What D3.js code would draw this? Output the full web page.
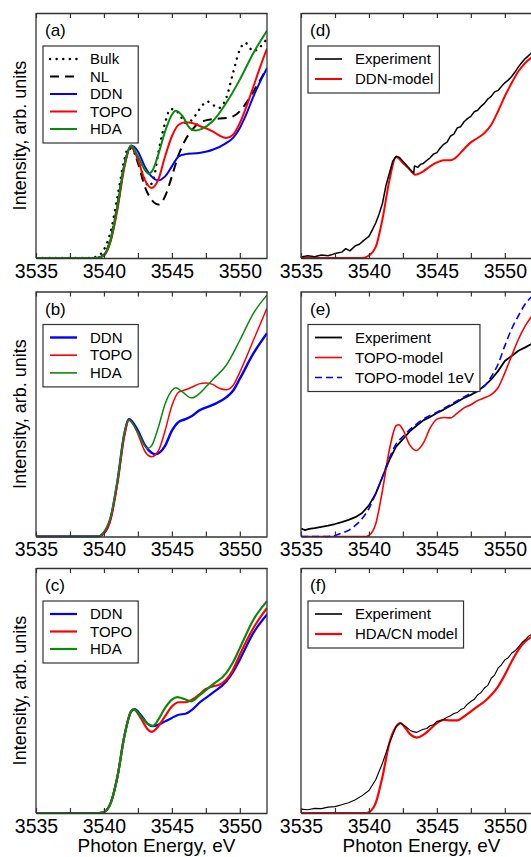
<!DOCTYPE html>
<html>
<head>
<meta charset="utf-8">
<script src="https://cdn.jsdelivr.net/npm/d3@7"></script>
<style>
  body { margin: 0; background: #fff; }
  svg { display: block; font-family: "Liberation Sans", Arial, sans-serif; }
</style>
</head>
<body>
<svg id="chart" width="531" height="857"></svg>
<script>
// x axis: photon energy, eV
const xDomain = [3535, 3552];
const xTicks = [3535, 3537.5, 3540, 3542.5, 3545, 3547.5, 3550];

// (a) simulated spectra, intensity in % of panel height
const bulkA = [[3535,0],[3539,0],[3539.5,0.7],[3540,3.4],[3540.5,10.9],[3541,25.2],[3541.5,40.1],[3541.8,44.9],[3542.5,40.1],[3543,32],[3543.3,29.3],[3543.7,33.3],[3544,42.9],[3544.5,55.1],[3544.9,60.8],[3545.5,59.2],[3546,55.1],[3546.5,56.5],[3547,60.5],[3547.6,63.9],[3548,62.6],[3548.45,61.2],[3549,65.3],[3549.5,75.5],[3550,85],[3550.4,87.8],[3551,84.4],[3551.4,85.7],[3552,89.5]];
const nlA = [[3535,0],[3539.5,0],[3540,1.5],[3540.5,8],[3541,22],[3541.5,38],[3542,45.6],[3542.5,38.8],[3543,29.3],[3543.5,23.8],[3544,21.8],[3544.5,25.2],[3545,33.3],[3545.5,42.2],[3546,48.3],[3546.5,52.4],[3547,55.1],[3548,56.7],[3549,57.1],[3549.5,57.8],[3550,59.9],[3550.5,63.5],[3551,68],[3552,77.5]];
const ddnA = [[3535,0],[3539.5,0],[3540,1.2],[3540.5,7.5],[3541,21],[3541.5,37.4],[3542,45.9],[3542.5,43.5],[3543,37.4],[3543.5,33.3],[3544,31.7],[3544.5,33.3],[3545,37.4],[3545.5,41.5],[3546,42.4],[3547,42.9],[3548,44.2],[3549,46.9],[3549.5,49],[3550,53.1],[3550.5,59],[3551,66],[3551.5,72],[3552,77.5]];
const topoA = [[3535,0],[3539.5,0],[3540,1],[3540.5,7],[3541,20],[3541.5,37],[3542,45.6],[3542.5,40.1],[3543,32],[3543.5,28.6],[3544,32],[3544.5,41.5],[3545,49.7],[3545.5,54.4],[3546,55.4],[3546.5,55.1],[3547,54],[3548,51.7],[3548.5,50],[3549,49],[3549.5,50.3],[3550,55.1],[3550.5,62],[3551,70],[3551.5,78],[3552,85.5]];
const hdaA = [[3535,0],[3539.5,0],[3540,1.2],[3540.5,7.8],[3541,21.5],[3541.5,38],[3542,45.8],[3542.5,41.5],[3543,36],[3543.3,34.4],[3543.6,36],[3544,42.2],[3544.5,51.7],[3545,58.5],[3545.3,60.1],[3545.8,57.8],[3546.3,53.1],[3546.75,52],[3547.2,52.7],[3548,55.8],[3549,63.3],[3550,72.8],[3551,83.7],[3552,92.8]];

// (b)
const ddnB = [[3535,0],[3539.5,0],[3540,1.4],[3540.5,7.5],[3541,22.6],[3541.5,41.8],[3541.85,47.9],[3542.5,43.2],[3543,37.4],[3543.5,34.2],[3543.8,33.6],[3544.5,37],[3545,43.2],[3545.5,46.8],[3546,47.9],[3546.5,49.3],[3547,51.4],[3548,53.7],[3549,56.8],[3549.5,59.5],[3550,64.4],[3551,74.7],[3552,83]];
const topoB = [[3535,0],[3539.5,0],[3540,1.2],[3540.5,7],[3541,21.5],[3541.5,40.5],[3541.85,47.6],[3542.5,41.8],[3543,34.9],[3543.5,32.6],[3544,34.9],[3544.5,43.2],[3545,53.4],[3545.5,58.9],[3546,59.9],[3546.5,61],[3547,62.3],[3547.5,62.7],[3548,62.1],[3548.5,60.5],[3549,59.9],[3549.5,61.6],[3550,67.1],[3551,80.1],[3552,93.2]];
const hdaB = [[3535,0],[3539.5,0],[3540,2],[3540.5,8.5],[3541,23.5],[3541.5,42.5],[3541.8,47.6],[3542.5,42.5],[3543,37],[3543.2,35.9],[3543.5,37],[3544,44.5],[3544.5,54.1],[3545,59.6],[3545.3,60.7],[3545.8,58.9],[3546.3,56.8],[3546.5,56.6],[3547,58.2],[3547.5,61],[3548,64],[3549,69.9],[3550,80.1],[3551,91.1],[3552,98.5]];

// (c)
const ddnC = [[3535,0],[3539.6,0],[3540,0.4],[3540.5,4.1],[3541,15],[3541.5,31.3],[3542,41.5],[3542.25,42.4],[3542.7,40.1],[3543.2,36.5],[3543.6,35.4],[3544,36],[3544.5,37.4],[3545,38.8],[3545.5,40.1],[3546,40.5],[3546.5,42.2],[3547,44.9],[3548,49],[3549,53.7],[3549.5,57.5],[3550,62.6],[3551,73.5],[3552,81]];
const topoC = [[3535,0],[3539.6,0],[3540,0.4],[3540.5,4.1],[3541,15],[3541.5,31.3],[3542,41.5],[3542.2,42.3],[3542.7,38.8],[3543.2,34.3],[3543.5,33.1],[3544,35.4],[3544.5,39.5],[3545,43.5],[3545.5,45.2],[3546,45.2],[3546.5,46.3],[3547,48.3],[3547.5,50.6],[3548,51.7],[3548.5,52.4],[3549,54.4],[3549.5,58.5],[3550,64.6],[3551,75.5],[3552,83.7]];
const hdaC = [[3535,0],[3539.6,0],[3540,0.4],[3540.5,4.1],[3541,15],[3541.5,31.3],[3542,41.5],[3542.2,42.3],[3542.7,39.5],[3543.2,36.5],[3543.6,35.6],[3544,38.1],[3544.5,42.9],[3545,46.3],[3545.4,47.3],[3546,46.3],[3546.4,45.6],[3547,47.9],[3548,52.4],[3549,57.1],[3549.5,61.5],[3550,67.3],[3551,78.9],[3552,86.5]];

// (d) experiment vs DDN model
const expD = [[3535,0.4],[3535.5,0.9],[3536,0.5],[3536.5,1.2],[3537,0.9],[3537.5,1.8],[3538,2.4],[3538.3,3.8],[3538.6,2.9],[3539,5.0],[3539.3,5.6],[3539.6,7.1],[3540,8.8],[3540.25,11.5],[3540.5,14.3],[3540.75,18.0],[3541,22.4],[3541.25,29.5],[3541.5,34.5],[3541.75,39.5],[3542,41.5],[3542.25,41.0],[3542.5,39.5],[3542.75,38.0],[3543,36.3],[3543.3,34.7],[3543.35,37.6],[3543.6,37.0],[3543.8,38.3],[3544,38.6],[3544.25,39.8],[3544.5,40.9],[3544.75,42.4],[3545,43.0],[3545.25,44.9],[3545.5,46.4],[3545.75,47.3],[3546,49.7],[3546.25,50.6],[3546.5,53.1],[3546.75,53.6],[3547,55.6],[3547.25,56.9],[3547.5,57.8],[3547.75,59.7],[3548,60.3],[3548.25,61.9],[3548.5,63.1],[3548.75,64.9],[3549,66.0],[3549.25,67.8],[3549.5,68.4],[3549.75,70.0],[3550,71.5],[3550.25,72.6],[3550.5,74.1],[3550.75,75.9],[3551,78.0],[3551.25,79.8],[3551.5,81.4],[3551.75,82.6],[3552,84.0]];
const ddnModelD = [[3535,0],[3539.5,0],[3540,1],[3540.5,4.5],[3541,16],[3541.5,31.5],[3542,41.2],[3542.5,38.8],[3543,36.1],[3543.4,34],[3544,35.4],[3544.5,37.4],[3545,39],[3545.5,39.9],[3546,39.9],[3546.5,41.5],[3547,44.5],[3547.5,47.2],[3548,49],[3548.5,51],[3549,54.4],[3549.5,59.9],[3550,66],[3550.5,71.4],[3551,76.2],[3551.5,79.6],[3552,82]];

// (e) experiment vs TOPO model
const expE = [[3535,3.2],[3535.3,2.6],[3535.6,3.1],[3536,3.4],[3536.5,3.9],[3537,4.4],[3537.5,5.1],[3538,5.9],[3538.5,6.8],[3539,7.9],[3539.5,9.6],[3540,12.7],[3540.5,17.5],[3541,24.4],[3541.5,31.2],[3542,36.7],[3542.5,39.7],[3543,42.9],[3543.5,45.2],[3544,47.4],[3544.5,48.8],[3545,50.4],[3545.5,51.8],[3546,53.4],[3546.5,54.9],[3547,56.6],[3547.5,57.8],[3548,59.3],[3548.5,61.5],[3549,64.1],[3549.5,67.5],[3550,71.6],[3550.5,73.7],[3551,75.8],[3551.5,77.2],[3552,78.7]];
const topoModelE = [[3535,0],[3539.8,0],[3540,0.4],[3540.5,5.2],[3541,18.9],[3541.5,35.3],[3542,45.2],[3542.2,45.6],[3542.5,43.6],[3543,37.4],[3543.5,35.1],[3544,38.1],[3544.5,44.2],[3545,47.9],[3545.5,48.6],[3546,48.4],[3546.5,50.4],[3547,52.5],[3547.5,53.8],[3548,55.5],[3548.5,56.6],[3549,57.9],[3549.5,60.7],[3550,66.8],[3550.5,73.7],[3551,80.5],[3551.5,86],[3552,90]];
const topo1eVE = [[3535,0],[3537,0],[3537.5,0.4],[3538,1.4],[3538.5,2.5],[3539,4.5],[3539.5,7.3],[3540,11.4],[3540.5,17.5],[3541,24.4],[3541.5,31.9],[3542,37.8],[3542.5,40.8],[3543,43.6],[3543.5,45.9],[3544,47.9],[3545,50.7],[3546,53.8],[3547,57],[3548,60],[3548.5,61.4],[3549,65.2],[3549.5,70.3],[3550,77.8],[3550.5,84.7],[3551,90.1],[3551.5,94.9],[3552,98]];

// (f) experiment vs HDA/CN model
const expF = [[3535,1.6],[3535.5,1.3],[3536,1.9],[3536.5,1.8],[3537,2.4],[3537.5,2.6],[3538,3.4],[3538.5,4.2],[3539,5.4],[3539.5,7.1],[3540,9.2],[3540.5,13.6],[3541,20.4],[3541.5,28.5],[3542,35.3],[3542.3,36.7],[3542.7,35.3],[3543,33.9],[3543.25,33.2],[3543.5,32.9],[3543.75,33.6],[3544,34.2],[3544.25,34.5],[3544.5,35.6],[3544.75,36.0],[3545,37.4],[3545.25,37.6],[3545.5,38.3],[3545.75,39.1],[3546,39.7],[3546.25,40.6],[3546.5,41.0],[3546.75,42.2],[3547,42.8],[3547.25,44.4],[3547.5,45.5],[3547.75,46.4],[3548,48.2],[3548.25,49.2],[3548.5,51.0],[3548.75,52.1],[3549,55.0],[3549.25,56.3],[3549.5,59.1],[3549.75,60.5],[3550,62.5],[3550.25,63.4],[3550.5,65.2],[3550.75,66.2],[3551,67.7],[3551.25,69.5],[3551.5,70.7],[3551.75,72.2],[3552,73]];
const hdaModelF = [[3535,0],[3539.8,0],[3540,0.3],[3540.5,4.1],[3541,14.9],[3541.5,28.5],[3542,35.3],[3542.3,36.7],[3542.7,34.6],[3543,32.3],[3543.5,30.8],[3544,31.9],[3544.5,34.2],[3545,36.7],[3545.5,38],[3546,37.8],[3546.5,37.8],[3547,39.4],[3547.5,41.4],[3548,43.5],[3548.5,45.5],[3549,48.2],[3549.5,51.6],[3550,56.4],[3550.5,61.8],[3551,66.6],[3551.5,70],[3552,72]];

const BLUE = '#0000ff', RED = '#ff0000', GREEN = '#0a8a0a', BLACK = '#000';

const panels = [
  { label: '(a)', col: 0, row: 0, rowGap: 17.5, series: [
    { name: 'Bulk', data: bulkA, color: BLACK, width: 2.4, dash: '0.1,6.5', cap: 'round' },
    { name: 'NL', data: nlA, color: BLACK, width: 2, dash: '9,6' },
    { name: 'DDN', data: ddnA, color: BLUE, width: 2 },
    { name: 'TOPO', data: topoA, color: RED, width: 2 },
    { name: 'HDA', data: hdaA, color: GREEN, width: 2 } ] },
  { label: '(b)', col: 0, row: 1, rowGap: 17.7, series: [
    { name: 'DDN', data: ddnB, color: BLUE, width: 2.4 },
    { name: 'TOPO', data: topoB, color: RED, width: 1.5 },
    { name: 'HDA', data: hdaB, color: GREEN, width: 1.5 } ] },
  { label: '(c)', col: 0, row: 2, rowGap: 17.5, series: [
    { name: 'DDN', data: ddnC, color: BLUE, width: 2.2 },
    { name: 'TOPO', data: topoC, color: RED, width: 2.2 },
    { name: 'HDA', data: hdaC, color: GREEN, width: 2.2 } ] },
  { label: '(d)', col: 1, row: 0, rowGap: 20, series: [
    { name: 'Experiment', data: expD, color: BLACK, width: 1.5, raw: true },
    { name: 'DDN-model', data: ddnModelD, color: RED, width: 2 } ], order: [1, 0] },
  { label: '(e)', col: 1, row: 1, rowGap: 20, series: [
    { name: 'Experiment', data: expE, color: BLACK, width: 1.8, raw: true },
    { name: 'TOPO-model', data: topoModelE, color: RED, width: 1.6 },
    { name: 'TOPO-model 1eV', data: topo1eVE, color: BLUE, width: 1.6, dash: '7,4' } ] },
  { label: '(f)', col: 1, row: 2, rowGap: 20, series: [
    { name: 'Experiment', data: expF, color: BLACK, width: 1.1, raw: true },
    { name: 'HDA/CN model', data: hdaModelF, color: RED, width: 2.2 } ], order: [1, 0] }
];

const colX = [36, 301];
const rowY = [13, 291.5, 568];
const plotW = 231, plotH = 245;
const AXIS = '#333';

const svg = d3.select('#chart');
const x = d3.scaleLinear().domain(xDomain).range([0, plotW]);
const y = d3.scaleLinear().domain([0, 100]).range([plotH, 0]);

const smooth = d3.line().x(d => x(d[0])).y(d => y(d[1])).curve(d3.curveMonotoneX);
const rough = d3.line().x(d => x(d[0])).y(d => y(d[1]));

panels.forEach((p, i) => {
  const g = svg.append('g')
    .attr('transform', `translate(${colX[p.col]},${rowY[p.row]})`);

  // clip curves to the frame
  g.append('clipPath').attr('id', `clip${i}`)
    .append('rect').attr('x', 0).attr('y', -3).attr('width', plotW).attr('height', plotH + 4);

  const curves = g.append('g').attr('clip-path', `url(#clip${i})`);
  const order = p.order || p.series.map((s, k) => k);
  order.forEach(k => {
    const s = p.series[k];
    curves.append('path')
      .attr('d', (s.raw ? rough : smooth)(s.data))
      .attr('fill', 'none')
      .attr('stroke', s.color)
      .attr('stroke-width', s.width)
      .attr('stroke-dasharray', s.dash || null)
      .attr('stroke-linecap', s.cap || 'butt')
      .attr('stroke-linejoin', 'round');
  });

  // bottom axis with inward ticks
  const bottom = g.append('g')
    .attr('transform', `translate(0,${plotH})`)
    .call(d3.axisBottom(x).tickValues(xTicks).tickSizeInner(-5).tickSizeOuter(0)
      .tickPadding(6).tickFormat(d => d % 5 === 0 ? d : ''))
    .attr('font-size', 19.5).attr('font-family', null);
  const top = g.append('g')
    .call(d3.axisTop(x).tickValues(xTicks).tickSizeInner(-5).tickSizeOuter(0).tickFormat(''));
  [bottom, top].forEach(a => {
    a.select('.domain').attr('stroke', AXIS).attr('stroke-width', 1.3);
    a.selectAll('.tick line').attr('stroke', AXIS).attr('stroke-width', 1.2);
    a.selectAll('.tick text').attr('fill', '#000');
  });

  // left / right frame lines
  g.append('line').attr('x1', 0).attr('x2', 0).attr('y1', 0).attr('y2', plotH)
    .attr('stroke', AXIS).attr('stroke-width', 1.3);
  g.append('line').attr('x1', plotW).attr('x2', plotW).attr('y1', 0).attr('y2', plotH)
    .attr('stroke', AXIS).attr('stroke-width', 1.3);

  // panel letter
  g.append('text').attr('x', 9).attr('y', 23).attr('font-size', 17).text(p.label);

  // legend
  const lg = g.append('g').attr('transform', 'translate(7,33)');
  const box = lg.append('rect').attr('fill', '#fff').attr('stroke', AXIS).attr('stroke-width', 1.2);
  let maxW = 0;
  p.series.forEach((s, k) => {
    const cy = 13 + k * p.rowGap;
    lg.append('line').attr('x1', 7).attr('x2', 34).attr('y1', cy).attr('y2', cy)
      .attr('stroke', s.color).attr('stroke-width', Math.max(s.width, 1.6))
      .attr('stroke-dasharray', s.dash || null)
      .attr('stroke-linecap', s.cap || 'butt');
    const t = lg.append('text').attr('x', 47).attr('y', cy).attr('dy', '0.35em')
      .attr('font-size', 15).text(s.name);
    maxW = Math.max(maxW, t.node().getComputedTextLength());
  });
  box.attr('width', 47 + maxW + 6)
    .attr('height', (p.series.length - 1) * p.rowGap + 27);

  if (p.col === 0) {
    svg.append('text')
      .attr('transform', `translate(26,${rowY[p.row] + plotH / 2}) rotate(-90)`)
      .attr('text-anchor', 'middle').attr('font-size', 18)
      .text('Intensity, arb. units');
  }
  if (p.row === 2) {
    svg.append('text')
      .attr('x', colX[p.col] + plotW / 2 + 5).attr('y', 852)
      .attr('text-anchor', 'middle').attr('font-size', 19)
      .text('Photon Energy, eV');
  }
});
</script>
</body>
</html>
